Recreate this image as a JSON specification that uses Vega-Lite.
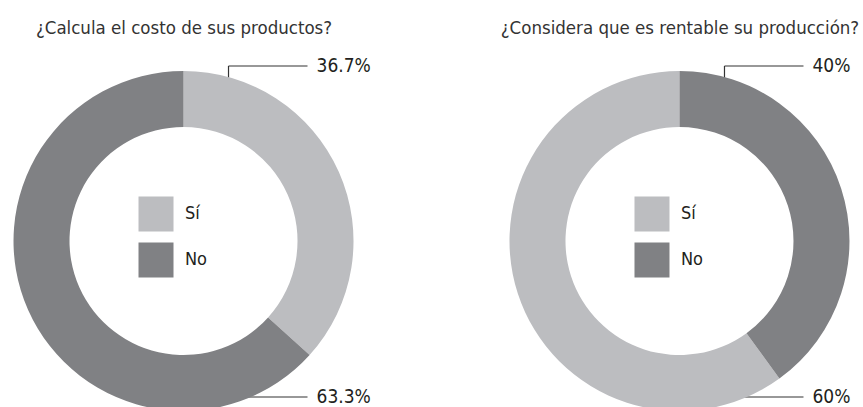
{
  "$schema": "https://vega.github.io/schema/vega-lite/v6.json",
  "width": 863,
  "height": 332,
  "autosize": {"type": "none"},
  "padding": {"top": 75, "left": 0, "right": 0, "bottom": 0},
  "background": "white",
  "config": {
    "view": {"stroke": null},
    "font": "DejaVu Sans Condensed, Liberation Sans Narrow, Roboto, sans-serif",
    "text": {"font": "DejaVu Sans Condensed, Liberation Sans Narrow, Roboto, sans-serif"}
  },
  "data": {
    "values": [
      {"pregunta": "¿Calcula el costo de sus productos?", "respuesta": "Sí", "valor": 0.367},
      {"pregunta": "¿Calcula el costo de sus productos?", "respuesta": "No", "valor": 0.633},
      {"pregunta": "¿Considera que es rentable su producción?", "respuesta": "Sí", "valor": 0.60},
      {"pregunta": "¿Considera que es rentable su producción?", "respuesta": "No", "valor": 0.40}
    ]
  },
  "transform": [
    {"stack": "valor", "groupby": ["pregunta"], "sort": [{"field": "valor", "order": "ascending"}], "as": ["inicio", "fin"]},
    {"window": [{"op": "rank", "as": "rango"}], "sort": [{"field": "valor", "order": "ascending"}], "groupby": ["pregunta"]}
  ],
  "encoding": {
    "x": {
      "field": "pregunta", "type": "nominal", "sort": null,
      "scale": {"type": "point", "padding": 0.37},
      "axis": {
        "orient": "top", "title": null, "domain": false, "ticks": false,
        "labelAngle": 0, "labelFontSize": 18.5, "labelPadding": 38, "labelLimit": 1000,
        "labelColor": "#333333", "labelFont": "DejaVu Sans Condensed, Liberation Sans Narrow, Roboto, sans-serif"
      }
    }
  },
  "layer": [
    {
      "mark": {"type": "rule", "xOffset": 45, "x2Offset": 124, "color": "#333333", "strokeWidth": 1.2},
      "encoding": {
        "x2": {"field": "pregunta"},
        "y": {"field": "rango", "type": "ordinal", "scale": {"type": "point", "domain": [1, 2], "range": [-9, 322], "padding": 0}, "axis": null}
      }
    },
    {
      "transform": [{"filter": "datum.rango == 1"}],
      "mark": {"type": "tick", "orient": "vertical", "size": 30, "thickness": 1.2, "xOffset": 45, "yOffset": 15, "color": "#333333", "opacity": 1},
      "encoding": {
        "y": {"field": "rango", "type": "ordinal", "scale": {"type": "point", "domain": [1, 2], "range": [-9, 322], "padding": 0}, "axis": null}
      }
    },
    {
      "mark": {"type": "arc", "outerRadius": 170, "innerRadius": 114},
      "encoding": {
        "theta": {"field": "inicio", "type": "quantitative", "scale": {"domain": [0, 1]}},
        "theta2": {"field": "fin"},
        "color": {"field": "respuesta", "type": "nominal", "scale": {"domain": ["Sí", "No"], "range": ["#bcbdc0", "#808184"]}, "legend": null}
      }
    },
    {
      "mark": {"type": "square", "size": 1225, "opacity": 1, "xOffset": -27.5},
      "encoding": {
        "y": {"field": "respuesta", "type": "nominal", "scale": {"type": "point", "domain": ["Sí", "No"], "range": [139, 185], "padding": 0}, "axis": null},
        "color": {"field": "respuesta", "type": "nominal", "legend": null}
      }
    },
    {
      "mark": {"type": "text", "align": "left", "baseline": "middle", "dx": 1.5, "fontSize": 18, "color": "#231f20"},
      "encoding": {
        "y": {"field": "respuesta", "type": "nominal", "scale": {"type": "point", "domain": ["Sí", "No"], "range": [139, 185], "padding": 0}, "axis": null},
        "text": {"field": "respuesta"}
      }
    },
    {
      "mark": {"type": "text", "align": "left", "baseline": "middle", "dx": 133, "fontSize": 19, "color": "#231f20"},
      "encoding": {
        "y": {"field": "rango", "type": "ordinal", "scale": {"type": "point", "domain": [1, 2], "range": [-9, 322], "padding": 0}, "axis": null},
        "text": {"field": "valor", "type": "quantitative", "format": ".1~%"}
      }
    }
  ],
  "resolve": {"scale": {"y": "independent"}}
}
